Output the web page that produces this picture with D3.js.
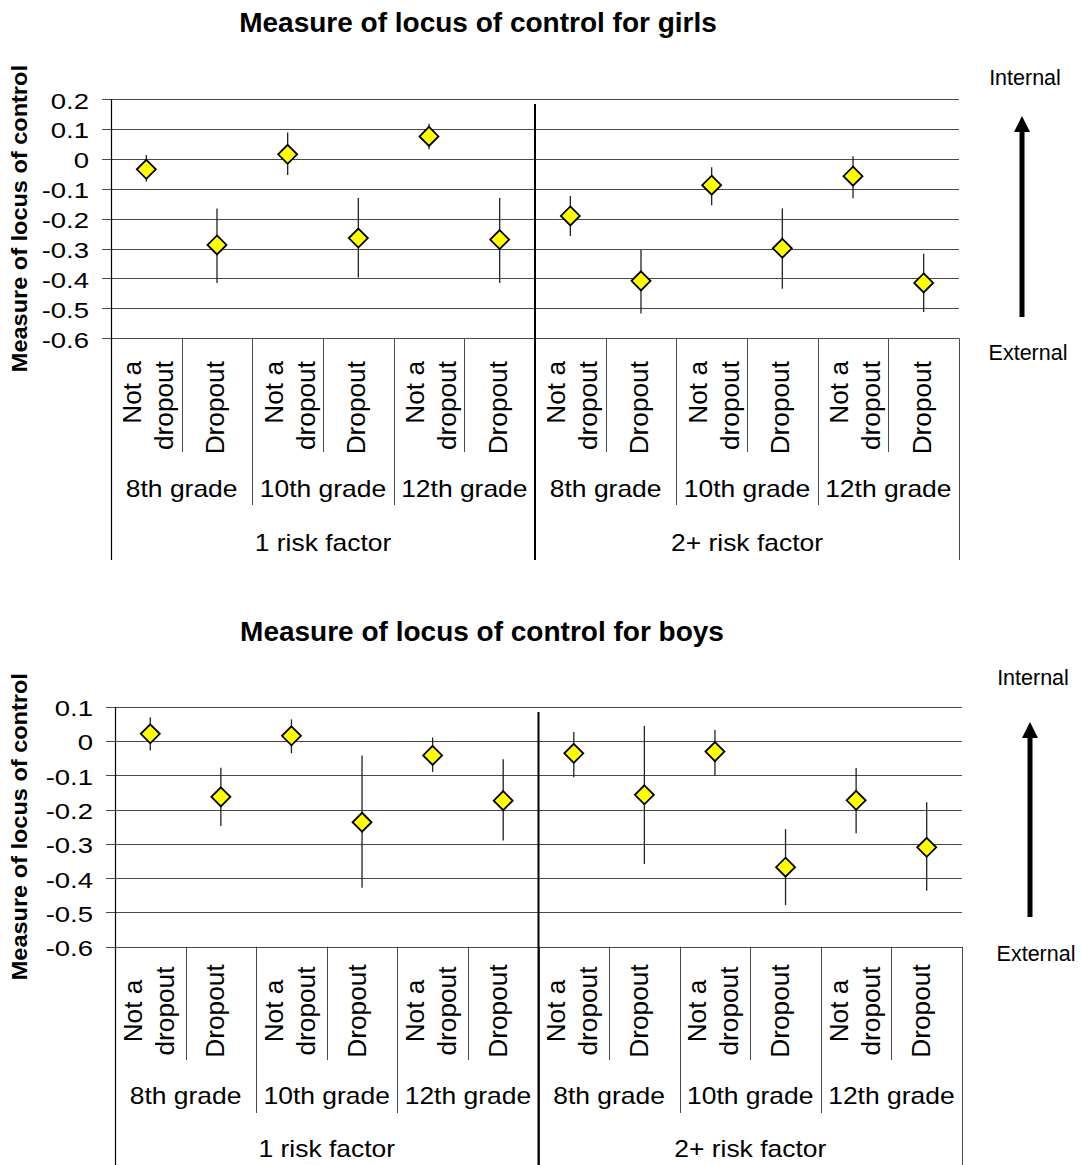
<!DOCTYPE html>
<html>
<head>
<meta charset="utf-8">
<script src="https://cdn.jsdelivr.net/npm/d3@7"></script>
<style>
  html, body { margin: 0; padding: 0; background: #fff; }
  svg { display: block; font-family: "Liberation Sans", Arial, sans-serif; }
</style>
</head>
<body>
<svg id="chart" width="1081" height="1165"></svg>
<script>
// ---- data ----
const riskGroups = ["1 risk factor", "2+ risk factor"];
const grades = ["8th grade", "10th grade", "12th grade"];
const statuses = [["Not a", "dropout"], ["Dropout"]];

const girlsTicks = [0.2, 0.1, 0, -0.1, -0.2, -0.3, -0.4, -0.5, -0.6];
const boysTicks = [0.1, 0, -0.1, -0.2, -0.3, -0.4, -0.5, -0.6];

// order: 1 risk (8th ND, 8th D, 10th ND, 10th D, 12th ND, 12th D), then 2+ risk
const girlsMean = [-0.035, -0.288, 0.015, -0.265, 0.075, -0.270, -0.191, -0.408, -0.088, -0.299, -0.058, -0.415];
const girlsHigh = [0.013, -0.166, 0.088, -0.131, 0.117, -0.131, -0.124, -0.305, -0.028, -0.166, 0.009, -0.317];
const girlsLow  = [-0.076, -0.415, -0.054, -0.397, 0.032, -0.415, -0.258, -0.517, -0.155, -0.434, -0.132, -0.512];

const boysMean = [0.021, -0.163, 0.015, -0.237, -0.042, -0.174, -0.036, -0.157, -0.031, -0.368, -0.173, -0.310];
const boysHigh = [0.069, -0.078, 0.063, -0.042, 0.010, -0.053, 0.026, 0.044, 0.032, -0.257, -0.079, -0.179];
const boysLow  = [-0.028, -0.248, -0.036, -0.428, -0.090, -0.290, -0.106, -0.359, -0.101, -0.479, -0.269, -0.437];

const svg = d3.select("#chart");

// text helper: places text at (x,y), optional rotation and horizontal stretch
function label(g, str, x, y, opt) {
  const o = Object.assign({ size: 21, k: 1, rot: 0, anchor: "middle", weight: "normal" }, opt || {});
  return g.append("text")
    .attr("transform", `translate(${x},${y}) rotate(${o.rot}) scale(${o.k},1)`)
    .attr("text-anchor", o.anchor)
    .attr("font-size", o.size)
    .attr("font-weight", o.weight)
    .attr("fill", "#000")
    .text(str);
}

function panel(cfg) {
  const g = svg.append("g");
  const n = riskGroups.length * grades.length * statuses.length;
  const x = d3.scaleBand().domain(d3.range(n)).range([cfg.x0, cfg.x1]);
  const bw = x.bandwidth();
  const y = d3.scaleLinear().domain([cfg.ticks[cfg.ticks.length - 1], cfg.ticks[0]]).range([cfg.yBot, cfg.yTop]);

  // title
  label(g, cfg.title, cfg.titleX, cfg.titleY, { size: 28, weight: "bold" });

  // gridlines + tick labels
  cfg.ticks.forEach(t => {
    const yy = Math.round(y(t)) + 0.5;
    g.append("line").attr("x1", cfg.x0 - 9).attr("x2", cfg.x1)
      .attr("y1", yy).attr("y2", yy)
      .attr("stroke", "#4a4a4a").attr("stroke-width", 1);
    label(g, t === 0 ? "0" : t.toFixed(1), cfg.x0 - 22, y(t) + 9.5, { size: 22, k: 1.25, anchor: "end" });
  });

  // y axis line
  g.append("line").attr("x1", cfg.x0 + 0.5).attr("x2", cfg.x0 + 0.5)
    .attr("y1", cfg.yTop).attr("y2", cfg.riskEnd)
    .attr("stroke", "#000").attr("stroke-width", 1.2);

  // category separators below the axis
  for (let i = 1; i <= n; i++) {
    const xx = Math.round(cfg.x0 + i * bw) + 0.5;
    const depth = i % 6 === 0 ? cfg.riskEnd : (i % 2 === 0 ? cfg.gradeEnd : cfg.leafEnd);
    g.append("line").attr("x1", xx).attr("x2", xx)
      .attr("y1", cfg.yBot).attr("y2", depth)
      .attr("stroke", "#4a4a4a").attr("stroke-width", 1);
  }
  // divider between risk groups
  const xd = cfg.x0 + 6 * bw;
  g.append("line").attr("x1", xd).attr("x2", xd)
    .attr("y1", cfg.dividerTop).attr("y2", cfg.riskEnd)
    .attr("stroke", "#000").attr("stroke-width", 2);

  // category labels
  for (let i = 0; i < n; i++) {
    const cx = x(i) + bw / 2;
    const lines = statuses[i % 2];
    const offs = lines.length === 2 ? cfg.twoLineOffsets : [cfg.oneLineOffset];
    lines.forEach((s, j) => {
      label(g, s, cx + offs[j], cfg.leafTextY, { size: 25, k: 1.05, rot: -90, anchor: cfg.leafAnchor });
    });
  }
  for (let r = 0; r < riskGroups.length; r++) {
    for (let gr = 0; gr < grades.length; gr++) {
      const cx = cfg.x0 + (r * 6 + gr * 2 + 1) * bw;
      label(g, grades[gr], cx, cfg.gradeY, { size: 23, k: 1.15 });
    }
    const cx = cfg.x0 + (r * 6 + 3) * bw;
    label(g, riskGroups[r], cx, cfg.riskY, { size: 23, k: 1.15 });
  }

  // y axis title
  label(g, "Measure of locus of control", cfg.yTitleX, (cfg.yTop + cfg.yBot) / 2,
    { size: 22, k: 1.07, rot: -90, weight: "bold" });

  // error bars
  g.selectAll(".err").data(cfg.mean).join("line")
    .attr("x1", (d, i) => x(i) + bw / 2).attr("x2", (d, i) => x(i) + bw / 2)
    .attr("y1", (d, i) => y(cfg.low[i])).attr("y2", (d, i) => y(cfg.high[i]))
    .attr("stroke", "#222").attr("stroke-width", 1.3);

  // diamond markers
  const r = 9.5;
  g.selectAll(".pt").data(cfg.mean).join("path")
    .attr("transform", (d, i) => `translate(${x(i) + bw / 2},${y(d)})`)
    .attr("d", `M0,${-r}L${r},0L0,${r}L${-r},0Z`)
    .attr("fill", "#ffff00").attr("stroke", "#000").attr("stroke-width", 1.8);

  // direction arrow
  label(g, "Internal", cfg.arrowX + 3, cfg.internalY, { size: 21.5 });
  label(g, "External", cfg.arrowX + 6, cfg.externalY, { size: 21.5 });
  g.append("line").attr("x1", cfg.arrowX).attr("x2", cfg.arrowX)
    .attr("y1", cfg.arrowTop + 14).attr("y2", cfg.arrowBot)
    .attr("stroke", "#000").attr("stroke-width", 5);
  g.append("path")
    .attr("d", `M${cfg.arrowX},${cfg.arrowTop}L${cfg.arrowX + 8},${cfg.arrowTop + 16}L${cfg.arrowX - 8},${cfg.arrowTop + 16}Z`)
    .attr("fill", "#000");
}

panel({
  title: "Measure of locus of control for girls", titleX: 478, titleY: 32,
  ticks: girlsTicks, mean: girlsMean, low: girlsLow, high: girlsHigh,
  x0: 111, x1: 959, yTop: 99, yBot: 338.3, dividerTop: 104,
  leafEnd: 452, gradeEnd: 505, riskEnd: 560,
  leafTextY: 361, leafAnchor: "end", twoLineOffsets: [-5, 27], oneLineOffset: 7,
  gradeY: 497, riskY: 551, yTitleX: 27,
  arrowX: 1022, arrowTop: 116, arrowBot: 317, internalY: 85, externalY: 360
});

panel({
  title: "Measure of locus of control for boys", titleX: 482, titleY: 641,
  ticks: boysTicks, mean: boysMean, low: boysLow, high: boysHigh,
  x0: 115, x1: 962, yTop: 706.7, yBot: 946.7, dividerTop: 712,
  leafEnd: 1060, gradeEnd: 1113, riskEnd: 1165,
  leafTextY: 1011, leafAnchor: "middle", twoLineOffsets: [-8.5, 23.5], oneLineOffset: 3.5,
  gradeY: 1104, riskY: 1157, yTitleX: 27,
  arrowX: 1030, arrowTop: 722, arrowBot: 917, internalY: 685, externalY: 961
});
</script>
</body>
</html>
